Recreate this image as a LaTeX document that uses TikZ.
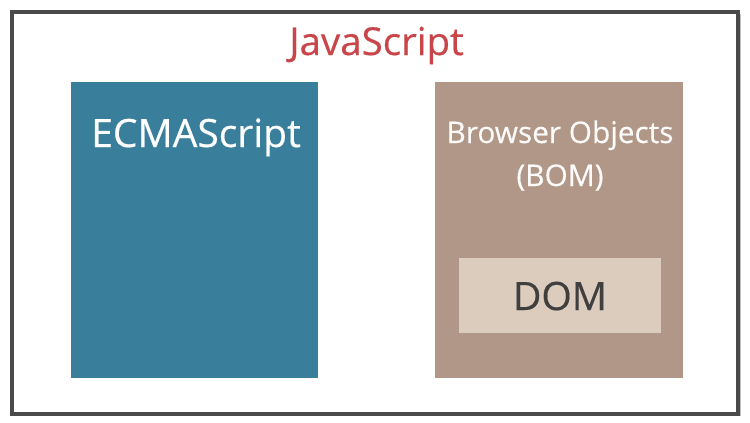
\documentclass[tikz,border=0pt]{standalone}
\usepackage{fontspec}
\setmainfont{Open Sans}[FakeBold=0.4]
\definecolor{frameC}{HTML}{4A4A4A}
\definecolor{ecmaC}{HTML}{397E9B}
\definecolor{bomC}{HTML}{B09787}
\definecolor{domC}{HTML}{DCCCBD}
\definecolor{jsC}{HTML}{C8464A}
\definecolor{domT}{HTML}{3F3F3F}
\begin{document}
\begin{tikzpicture}[x=1pt,y=-1pt,
  boxfill/.style={draw=none,inner sep=0pt,anchor=north west},
  lbl/.style={inner sep=0pt,anchor=base}]
\useasboundingbox (0,0) rectangle (750,423);
\fill[white] (0,0) rectangle (750,423);
% shadow
\draw[line width=3pt,black!25] (14,414) -- (739,414) -- (739,14);
\node[draw=frameC,line width=4pt,minimum width=726pt,minimum height=402pt,inner sep=0pt,anchor=north west] (frame) at (10,10) {};
\node[lbl,text=jsC,font=\fontsize{38.5}{44}\selectfont] (js) at (376.5,55) {JavaScript};
\node[boxfill,fill=ecmaC,minimum width=247pt,minimum height=296pt] (ecma) at (71,82) {};
\node[lbl,text=white,font=\fontsize{39}{44}\selectfont] (ecmat) at (196,147) {ECMAScript};
\node[boxfill,fill=bomC,minimum width=248pt,minimum height=296pt] (bom) at (435,82) {};
\node[lbl,text=white!96!bomC,font=\fontsize{29.8}{36}\selectfont] (bomt) at (560,143) {Browser Objects};
\node[lbl,text=white!96!bomC,font=\fontsize{29.8}{36}\selectfont] (bomt2) at (560,186) {(BOM)};
\node[boxfill,fill=domC,minimum width=202pt,minimum height=75pt] (dom) at (459,258) {};
\node[lbl,text=domT,font=\fontsize{39}{44}\selectfont] (domt) at (560,310) {DOM};
\end{tikzpicture}
\end{document}
